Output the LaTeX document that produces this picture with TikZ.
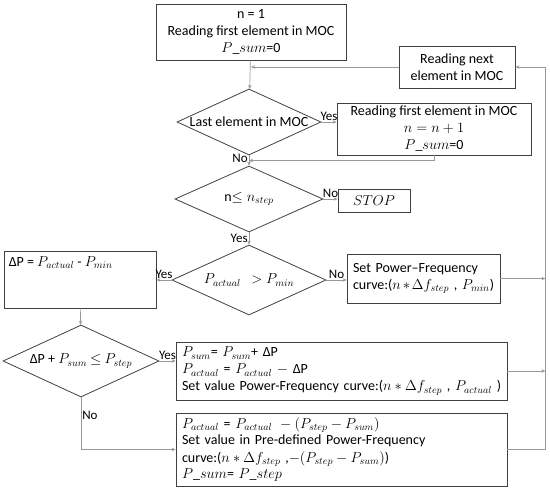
\documentclass[tikz,border=0pt]{standalone}
\usepackage{fontspec}
\setmainfont{Carlito}
\usetikzlibrary{arrows.meta, positioning, shapes.geometric, calc}

\begin{document}
\begin{tikzpicture}[x=1pt, y=-1pt, >={Stealth[length=4pt, width=3.5pt]},
  font=\fontsize{14}{17}\selectfont,
  process/.style={draw=black!75, line width=0.8pt, rectangle, inner sep=0pt, align=center},
  procleft/.style={draw=black!75, line width=0.8pt, rectangle, inner xsep=6pt, inner ysep=0pt, align=left},
  decision/.style={draw=black!75, line width=0.8pt, diamond, inner sep=0pt},
  flow/.style={->, draw=black!40, line width=0.7pt},
  lbl/.style={font=\fontsize{13}{15}\selectfont, inner sep=1pt}]
  \useasboundingbox (0,0) rectangle (550,495);

  \node[process, minimum width=190pt, minimum height=56pt] (init) at (251,32)
    {n = 1\\Reading first element in MOC\\$P\_sum$=0};
  \node[process, minimum width=116pt, minimum height=42pt] (next) at (457,67)
    {Reading next\\element in MOC};
  \node[decision, minimum width=144pt, minimum height=66pt,
    label=center:{Last element in MOC}] (last) at (249,122) {};
  \node[process, minimum width=194pt, minimum height=52pt] (first) at (434,129)
    {Reading first element in MOC\\$n=n+1$\\$P\_sum$=0};
  \node[decision, minimum width=148pt, minimum height=66pt,
    label=center:{n$\leq n_{step}$}] (nstep) at (249,199) {};
  \node[process, minimum width=72pt, minimum height=23pt] (stop) at (374,201) {$STOP$};
  \node[decision, minimum width=154pt, minimum height=70pt,
    label=center:{$P_{actual}\ \ > P_{min}$}] (pmin) at (249,280) {};
  \node[process, minimum width=152pt, minimum height=57pt] (dp) at (80,279.5) {};
  \node[anchor=north west, inner sep=0pt] (dptext) at ([xshift=5pt, yshift=-6pt]dp.north west)
    {ΔP = $P_{actual}$ - $P_{min}$};
  \node[procleft, text width=141pt, minimum height=49pt] (setpf) at (423.5,278.5)
    {Set Power–Frequency\\curve:($n*\Delta f_{step}$ , $P_{min}$)};
  \node[decision, minimum width=156pt, minimum height=72pt,
    label=center:{ΔP + $P_{sum}$ $\leq$ $P_{step}$}] (cond) at (81,361) {};
  \node[procleft, text width=319pt, minimum height=58pt] (yesbox) at (341.5,371)
    {$P_{sum}$= $P_{sum}$+ ΔP\\
     $P_{actual}$ = $P_{actual}\ -$ ΔP\\
     Set value Power-Frequency curve:($n*\Delta f_{step}$ , $P_{actual}$ )};
  \node[procleft, text width=319pt, minimum height=73pt] (nobox) at (341.5,449.5)
    {$P_{actual}$ = $P_{actual}\ -(P_{step}-P_{sum})$\\
     Set value in Pre-defined Power-Frequency\\
     curve:($n*\Delta f_{step}$ ,$-(P_{step}-P_{sum})$)\\
     $P\_sum$= $P\_step$};

  % main flow
  \draw[flow] (init) -- (last);
  \draw[flow] (next.west) -- (next.west -| init.south);
  \draw[flow] (last.east) -- node[lbl, above] {Yes} (last.east -| first.west);
  \draw[flow] (last) -- node[lbl, left, pos=.3] {No} (nstep);
  \draw[flow] (first.south) |- ($(last.south)!.5!(nstep.north)$);
  \draw[flow] (nstep.east) -- node[lbl, above] {No} (nstep.east -| stop.west);
  \draw[flow] (nstep) -- node[lbl, left] {Yes} (pmin);
  \draw[flow] (pmin.west) -- node[lbl, above] {Yes} (pmin.west -| dp.east);
  \draw[flow] (pmin.east) -- node[lbl, above] {No} (pmin.east -| setpf.west);
  \draw[flow] (dp) -- (cond);
  \draw[flow] (cond.east) -- node[lbl, above] {Yes} (cond.east -| yesbox.west);
  \draw[flow] (cond.south) |- node[lbl, right, pos=.17] {No} (nobox.west);

  % loop back
  \coordinate (rail) at ([xshift=30pt]next.east);
  \draw[flow] (nobox.east) -| (rail) -- (next.east);
  \draw[flow] (setpf.east) -- (setpf.east -| rail);
  \draw[flow] (yesbox.east) -- (yesbox.east -| rail);
\end{tikzpicture}
\end{document}
